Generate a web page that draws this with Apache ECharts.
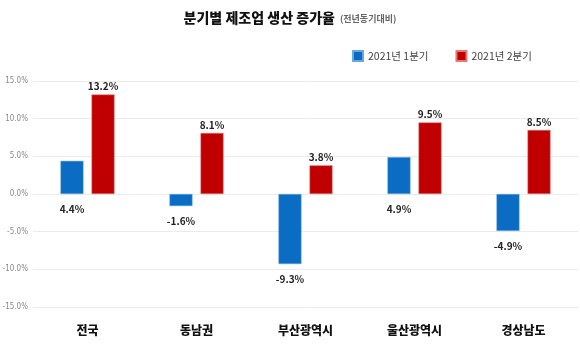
<!DOCTYPE html>
<html>
<head>
<meta charset="utf-8">
<script src="https://cdn.jsdelivr.net/npm/echarts@6/dist/echarts.min.js"></script>
<style>html,body{margin:0;padding:0;background:#fff;}#c{width:580px;height:350px;}</style>
</head>
<body>
<div id="c"></div>
<script>
const categories = ['전국', '동남권', '부산광역시', '울산광역시', '경상남도'];
const seriesNames = ['2021년 1분기', '2021년 2분기'];
const q1Values = [4.4, -1.6, -9.3, 4.9, -4.9];
const q2Values = [13.2, 8.1, 3.8, 9.5, 8.5];
const yTicks = [-15, -10, -5, 0, 5, 10, 15];

const FONT = '"Noto Sans CJK KR", "Noto Sans", sans-serif';
const chart = echarts.init(document.getElementById('c'));
chart.setOption({
  animation: false,
  backgroundColor: '#fff',
  title: {
    text: '{a|분기별 제조업 생산 증가율} {b|(전년동기대비)}',
    left: 'center',
    top: 4,
    textStyle: {
      rich: {
        a: { fontFamily: FONT, fontSize: 14, fontWeight: 900, color: '#111' },
        b: { fontFamily: FONT, fontSize: 9, color: '#666', padding: [2, 0, 0, 0] }
      }
    }
  },
  legend: {
    left: 347,
    top: 45,
    itemWidth: 10,
    itemHeight: 10,
    itemGap: 27,
    icon: 'rect',
    textStyle: { fontFamily: FONT, fontSize: 10.5, color: '#444' },
    data: seriesNames
  },
  grid: { left: 33, right: 2, top: 81, bottom: 43, containLabel: false, outerBoundsMode: 'none' },
  xAxis: {
    type: 'category',
    data: categories,
    axisLine: { show: false },
    axisTick: { show: false },
    axisLabel: { fontFamily: FONT, fontSize: 12, fontWeight: 900, color: '#111', margin: 17 }
  },
  yAxis: {
    type: 'value',
    min: yTicks[0],
    max: yTicks[yTicks.length - 1],
    interval: 5,
    axisLine: { show: false },
    axisTick: { show: false },
    axisLabel: {
      fontFamily: '"Liberation Sans Narrow", "DejaVu Sans Condensed", "Liberation Sans", sans-serif',
      fontSize: 8,
      color: '#888',
      margin: 5,
      formatter: v => v.toFixed(1) + '%'
    },
    splitLine: { lineStyle: { color: '#ebebeb', width: 1 } }
  },
  series: [
    {
      name: seriesNames[0],
      type: 'bar',
      data: q1Values,
      barWidth: 23,
      barGap: '35%',
      itemStyle: { color: '#0A6CC3', borderColor: '#6aa8df', borderWidth: 0.5 },
      label: {
        show: true,
        position: 'bottom',
        distance: 10,
        fontFamily: FONT,
        fontSize: 10,
        fontWeight: 'bold',
        color: '#222',
        formatter: p => p.value.toFixed(1) + '%'
      }
    },
    {
      name: seriesNames[1],
      type: 'bar',
      data: q2Values,
      barWidth: 23,
      itemStyle: { color: '#C00000', borderColor: '#e27a7a', borderWidth: 0.5 },
      label: {
        show: true,
        position: 'top',
        distance: 3,
        fontFamily: FONT,
        fontSize: 10,
        fontWeight: 'bold',
        color: '#222',
        formatter: p => p.value.toFixed(1) + '%'
      }
    }
  ]
});
</script>
</body>
</html>
